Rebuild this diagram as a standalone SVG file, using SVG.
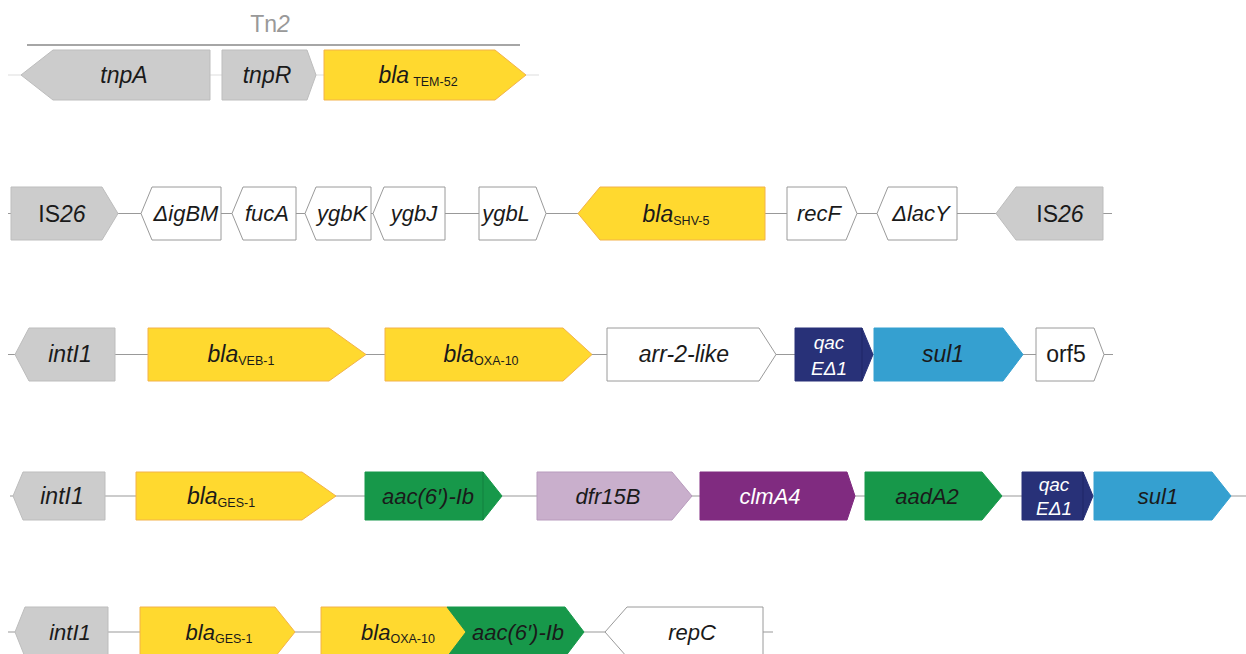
<svg xmlns="http://www.w3.org/2000/svg" width="1246" height="654" viewBox="0 0 1246 654">
<style>
.bb{stroke:#999;stroke-width:1.2;fill:none}
.bb1{stroke:#ddd;stroke-width:1.2;fill:none}
.gray{fill:#cccccc;stroke:#bdbdbd;stroke-width:1}
.yel{fill:#ffd92f;stroke:#f3b24a;stroke-width:1}
.wht{fill:#ffffff;stroke:#9a9a9a;stroke-width:1}
.navy{fill:#283178;stroke:#283178;stroke-width:1}
.blue{fill:#35a0d0;stroke:#35a0d0;stroke-width:1}
.grn{fill:#17984a;stroke:#17984a;stroke-width:1}
.pur{fill:#802b80;stroke:#802b80;stroke-width:1}
.lpur{fill:#c9afcc;stroke:#b89bbd;stroke-width:1}
text{font-family:"Liberation Sans",Arial,sans-serif;font-size:22px;fill:#1a1a1a;text-anchor:middle}
.it{font-style:italic}
.b{font-size:23px}
.sub{font-size:12.5px;font-style:normal}
.w{fill:#ffffff}
.q{font-size:19px;font-style:italic;fill:#ffffff}
</style>
<g id="connectors">
<line class="bb1" x1="8" y1="75" x2="539" y2="75"/>
<line class="bb" x1="8" y1="213.5" x2="1112" y2="213.5"/>
<line class="bb" x1="8" y1="354.5" x2="1113" y2="354.5"/>
<line class="bb" x1="10" y1="496" x2="1246" y2="496"/>
<line class="bb" x1="8" y1="632" x2="773" y2="632"/>
</g>
<g id="tn2">
<line x1="27" y1="45" x2="520" y2="45" stroke="#888" stroke-width="1.5"/>
<text x="270" y="32" style="fill:#999;font-size:23px">Tn<tspan class="it">2</tspan></text>
</g>
<g id="tnpA"><polygon class="gray" points="21,75 53,50 210,50 210,100 53,100"/><text class="it b" x="124" y="83">tnpA</text></g>
<g id="tnpR"><polygon class="gray" points="222,50 307,50 316,75 307,100 222,100"/><text class="it b" x="267" y="83">tnpR</text></g>
<g id="blaTEM52"><polygon class="yel" points="324,50 495,50 526,75 495,100 324,100"/><text class="it b" x="418" y="83">bla<tspan class="sub" dx="4" dy="3">TEM-52</tspan></text></g>

<g id="IS26a"><polygon class="gray" points="11,187 102,187 118,213.5 102,240 11,240"/><text class="b" x="62" y="222">IS<tspan class="it">26</tspan></text></g>
<g id="digBM"><polygon class="wht" points="141,213.5 152,187 221,187 221,240 152,240"/><text class="it" x="186" y="221">ΔigBM</text></g>
<g id="fucA"><polygon class="wht" points="232,213.5 243,187 296,187 296,240 243,240"/><text class="it" x="267" y="221">fucA</text></g>
<g id="ygbK"><polygon class="wht" points="305,213.5 316,187 371,187 371,240 316,240"/><text class="it" x="342" y="221">ygbK</text></g>
<g id="ygbJ"><polygon class="wht" points="373,213.5 384,187 445,187 445,240 384,240"/><text class="it" x="414" y="221">ygbJ</text></g>
<g id="ygbL"><polygon class="wht" points="479,187 536,187 546,213.5 536,240 479,240"/><text class="it" x="506" y="221">ygbL</text></g>
<g id="blaSHV5"><polygon class="yel" points="578,213.5 600,187 765,187 765,240 600,240"/><text class="it b" x="676" y="222">bla<tspan class="sub" dy="3">SHV-5</tspan></text></g>
<g id="recF"><polygon class="wht" points="787,187 846,187 857,213.5 846,240 787,240"/><text class="it" x="819" y="221">recF</text></g>
<g id="dlacY"><polygon class="wht" points="877,213.5 888,187 957,187 957,240 888,240"/><text class="it" x="921" y="221">ΔlacY</text></g>
<g id="IS26b"><polygon class="gray" points="996,213.5 1016,187 1103,187 1103,240 1016,240"/><text class="b" x="1060" y="222">IS<tspan class="it">26</tspan></text></g>

<g id="intI1a"><polygon class="gray" points="15,354.5 29,328 115,328 115,381 29,381"/><text class="it b" x="70" y="362">intI1</text></g>
<g id="blaVEB1"><polygon class="yel" points="148,328 329,328 366,354.5 329,381 148,381"/><text class="it b" x="241" y="362">bla<tspan class="sub" dy="3">VEB-1</tspan></text></g>
<g id="blaOXA10a"><polygon class="yel" points="385,328 563,328 592,354.5 563,381 385,381"/><text class="it b" x="481" y="362">bla<tspan class="sub" dy="3">OXA-10</tspan></text></g>
<g id="arr2"><polygon class="wht" points="607,328 759,328 776,354.5 759,381 607,381"/><text class="it b" x="684" y="362">arr-2-like</text></g>
<g id="qacEa"><polygon class="navy" points="795,328 862,328 873,354.5 862,381 795,381"/><line x1="862" y1="328" x2="862" y2="381" stroke="#1f2766" stroke-width="1"/><text class="q" x="829" y="349">qac</text><text class="q" x="829" y="375">EΔ1</text></g>
<g id="sul1a"><polygon class="blue" points="874,328 1003,328 1023,354.5 1003,381 874,381"/><text class="it b" x="943" y="362">sul1</text></g>
<g id="orf5"><polygon class="wht" points="1036,328 1094,328 1104,354.5 1094,381 1036,381"/><text class="b" x="1066" y="362">orf5</text></g>

<g id="intI1b"><polygon class="gray" points="13,496 23,472 105,472 105,520 23,520"/><text class="it b" x="62" y="504">intI1</text></g>
<g id="blaGES1a"><polygon class="yel" points="136,472 302,472 336,496 302,520 136,520"/><text class="it b" x="221" y="504">bla<tspan class="sub" dy="3">GES-1</tspan></text></g>
<g id="aac6a"><polygon class="grn" points="365,472 483,472 502,496 483,520 365,520"/><line x1="483" y1="472" x2="483" y2="520" stroke="#13803e" stroke-width="1"/><text class="it" x="428" y="504">aac(6′)-Ib</text></g>
<g id="dfr15B"><polygon class="lpur" points="537,472 672,472 692,496 672,520 537,520"/><text class="it" x="608" y="504">dfr15B</text></g>
<g id="clmA4"><polygon class="pur" points="700,472 847,472 855,496 847,520 700,520"/><text class="it w" x="770" y="504">clmA4</text></g>
<g id="aadA2"><polygon class="grn" points="865,472 982,472 1002,496 982,520 865,520"/><text class="it" x="927" y="504">aadA2</text></g>
<g id="qacEb"><polygon class="navy" points="1022,472 1083,472 1093,496 1083,520 1022,520"/><line x1="1083" y1="472" x2="1083" y2="520" stroke="#1f2766" stroke-width="1"/><text class="q" x="1054" y="491">qac</text><text class="q" x="1054" y="515">EΔ1</text></g>
<g id="sul1b"><polygon class="blue" points="1094,472 1212,472 1231,496 1212,520 1094,520"/><text class="it" x="1158" y="504">sul1</text></g>

<g id="intI1c"><polygon class="gray" points="15,632 25,607 108,607 108,657 25,657"/><text class="it" x="70" y="640">intI1</text></g>
<g id="blaGES1b"><polygon class="yel" points="140,607 275,607 295,632 275,657 140,657"/><text class="it" x="219" y="640">bla<tspan class="sub" dy="3">GES-1</tspan></text></g>
<g id="blaOXA10b"><polygon class="yel" points="321,607 447,607 466,632 447,657 321,657"/><text class="it" x="398" y="640">bla<tspan class="sub" dy="3">OXA-10</tspan></text></g>
<g id="aac6b"><polygon class="grn" points="447,607 565,607 584,632 565,657 447,657 466,632"/><text class="it" x="518" y="640">aac(6′)-Ib</text></g>
<g id="repC"><polygon class="wht" points="605,632 627,607 763,607 763,657 627,657"/><text class="it" x="692" y="640">repC</text></g>
</svg>
